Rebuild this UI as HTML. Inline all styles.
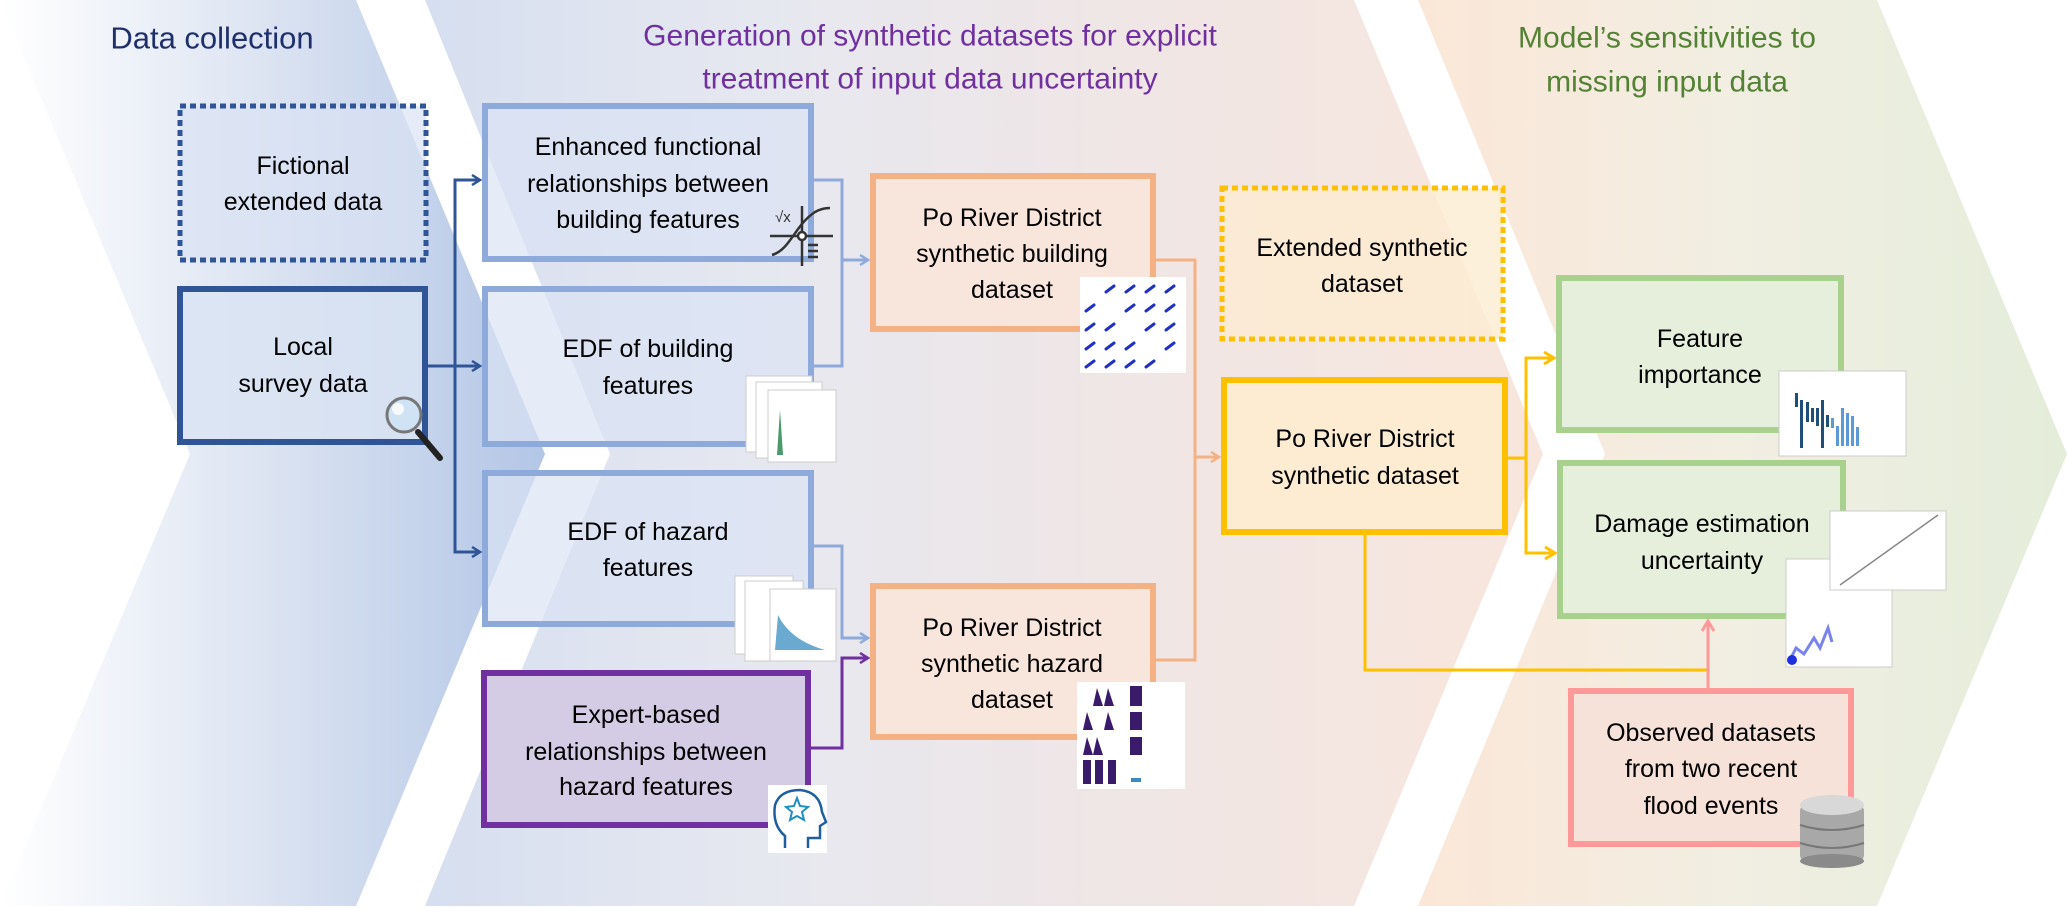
<!DOCTYPE html>
<html><head><meta charset="utf-8"><style>
html,body{margin:0;padding:0;background:#fff;}
svg{display:block;}
text{font-family:"Liberation Sans",sans-serif;}
</style></head><body>
<svg width="2067" height="908" viewBox="0 0 2067 908" xmlns="http://www.w3.org/2000/svg">
<defs>
<linearGradient id="g1" x1="0" x2="1" y1="0" y2="0">
<stop offset="0" stop-color="#ffffff"/><stop offset="0.45" stop-color="#dfe6f3"/><stop offset="1" stop-color="#b3c6e6"/></linearGradient>
<linearGradient id="g2" x1="0" x2="1" y1="0" y2="0">
<stop offset="0" stop-color="#d6dff0"/><stop offset="0.3" stop-color="#e6e8f0"/><stop offset="0.6" stop-color="#efe6e6"/><stop offset="1" stop-color="#f8e6dc"/></linearGradient>
<linearGradient id="g3" x1="0" x2="1" y1="0" y2="0">
<stop offset="0" stop-color="#fbe7d8"/><stop offset="0.5" stop-color="#f1eee2"/><stop offset="1" stop-color="#e4edda"/></linearGradient>
<marker id="ab" markerWidth="12" markerHeight="12" refX="10" refY="6" orient="auto" markerUnits="userSpaceOnUse"><path d="M2,1 L10,6 L2,11" fill="none" stroke="#2f5597" stroke-width="2.5"/></marker>
<marker id="al" markerWidth="12" markerHeight="12" refX="10" refY="6" orient="auto" markerUnits="userSpaceOnUse"><path d="M2,1 L10,6 L2,11" fill="none" stroke="#8eaadb" stroke-width="2.5"/></marker>
<marker id="ap" markerWidth="12" markerHeight="12" refX="10" refY="6" orient="auto" markerUnits="userSpaceOnUse"><path d="M2,1 L10,6 L2,11" fill="none" stroke="#7030a0" stroke-width="2.5"/></marker>
<marker id="ao" markerWidth="12" markerHeight="12" refX="10" refY="6" orient="auto" markerUnits="userSpaceOnUse"><path d="M2,1 L10,6 L2,11" fill="none" stroke="#f4b183" stroke-width="2.5"/></marker>
<marker id="ag" markerWidth="14" markerHeight="14" refX="12" refY="7" orient="auto" markerUnits="userSpaceOnUse"><path d="M2,1 L12,7 L2,13" fill="none" stroke="#ffc000" stroke-width="3"/></marker>
<marker id="ak" markerWidth="14" markerHeight="14" refX="12" refY="7" orient="auto" markerUnits="userSpaceOnUse"><path d="M2,1 L12,7 L2,13" fill="none" stroke="#ff9999" stroke-width="3"/></marker>
</defs>
<polygon points="0,0 356,0 545,454 356,906 0,906 190,454" fill="url(#g1)"/>
<polygon points="425,0 1354,0 1543,454 1354,906 425,906 610,454" fill="url(#g2)"/>
<polygon points="1418,0 1877,0 2067,454 1877,906 1418,906 1605,454" fill="url(#g3)"/>

<text x="212" y="38" font-size="31" fill="#1f2f6b" text-anchor="middle" dominant-baseline="central">Data collection</text>
<text x="930" y="36" font-size="30" fill="#7030a0" text-anchor="middle" dominant-baseline="central">Generation of synthetic datasets for explicit</text>
<text x="930" y="79" font-size="30" fill="#7030a0" text-anchor="middle" dominant-baseline="central">treatment of input data uncertainty</text>
<text x="1667" y="38" font-size="30" fill="#548235" text-anchor="middle" dominant-baseline="central">Model’s sensitivities to</text>
<text x="1667" y="82" font-size="30" fill="#548235" text-anchor="middle" dominant-baseline="central">missing input data</text>

<g fill="none" stroke-width="3">
<path d="M428,366 H480" stroke="#2f5597" marker-end="url(#ab)"/>
<path d="M455,366 V180 H480" stroke="#2f5597" marker-end="url(#ab)"/>
<path d="M455,366 V552 H480" stroke="#2f5597" marker-end="url(#ab)"/>
<path d="M814,180 H842 V366 H814" stroke="#8eaadb"/>
<path d="M842,260 H868" stroke="#8eaadb" marker-end="url(#al)"/>
<path d="M814,546 H842 V638 H868" stroke="#8eaadb" marker-end="url(#al)"/>
<path d="M811,748 H842 V658 H868" stroke="#7030a0" marker-end="url(#ap)"/>
<path d="M1156,260 H1195 V660 H1156" stroke="#f4b183"/>
<path d="M1195,457 H1219" stroke="#f4b183" marker-end="url(#ao)"/>
<path d="M1508,458 H1526" stroke="#ffc000"/>
<path d="M1526,458 V358 H1554" stroke="#ffc000" marker-end="url(#ag)"/>
<path d="M1526,458 V553 H1555" stroke="#ffc000" marker-end="url(#ag)"/>
<path d="M1365,535 V670 H1708" stroke="#ffc000"/>
<path d="M1708,688 V621" stroke="#ff9999" marker-end="url(#ak)"/>
</g>

<rect x="180" y="106" width="246" height="154" fill="#dae3f3" fill-opacity="0.7" stroke="#2f5597" stroke-width="5" stroke-dasharray="6,4"/>
<rect x="180" y="289" width="245" height="153" fill="#dae3f3" fill-opacity="0.8" stroke="#2f5597" stroke-width="6"/>
<rect x="485" y="106" width="326" height="153" fill="#dae3f3" fill-opacity="0.7" stroke="#8eaadb" stroke-width="6"/>
<rect x="485" y="289" width="326" height="155" fill="#dae3f3" fill-opacity="0.7" stroke="#8eaadb" stroke-width="6"/>
<rect x="485" y="473" width="326" height="151" fill="#dae3f3" fill-opacity="0.7" stroke="#8eaadb" stroke-width="6"/>
<rect x="484" y="673" width="324" height="152" fill="#d4cbe4" stroke="#7030a0" stroke-width="6"/>
<rect x="873" y="176" width="280" height="153" fill="#f8e5dc" stroke="#f4b183" stroke-width="6"/>
<rect x="873" y="586" width="280" height="151" fill="#f8e5dc" stroke="#f4b183" stroke-width="6"/>
<rect x="1222" y="188" width="281" height="151" fill="#fdecd2" fill-opacity="0.8" stroke="#ffc000" stroke-width="5" stroke-dasharray="6,4"/>
<rect x="1224" y="380" width="281" height="152" fill="#fdecd2" stroke="#ffc000" stroke-width="6"/>
<rect x="1559" y="278" width="282" height="152" fill="#e6eedc" stroke="#a9d18e" stroke-width="6"/>
<rect x="1560" y="463" width="283" height="153" fill="#e6eedc" stroke="#a9d18e" stroke-width="6"/>
<rect x="1571" y="691" width="280" height="153" fill="#f6e2d8" stroke="#ff9999" stroke-width="6"/>

<g font-size="25" fill="#000" text-anchor="middle" dominant-baseline="central">
<text x="303" y="166">Fictional</text><text x="303" y="202">extended data</text>
<text x="303" y="347">Local</text><text x="303" y="384">survey data</text>
<text x="648" y="147">Enhanced functional</text><text x="648" y="184">relationships between</text><text x="648" y="220">building features</text>
<text x="648" y="349">EDF of building</text><text x="648" y="386">features</text>
<text x="648" y="532">EDF of hazard</text><text x="648" y="568">features</text>
<text x="646" y="715">Expert-based</text><text x="646" y="752">relationships between</text><text x="646" y="787">hazard features</text>
<text x="1012" y="218">Po River District</text><text x="1012" y="254">synthetic building</text><text x="1012" y="290">dataset</text>
<text x="1012" y="628">Po River District</text><text x="1012" y="664">synthetic hazard</text><text x="1012" y="700">dataset</text>
<text x="1362" y="248">Extended synthetic</text><text x="1362" y="284">dataset</text>
<text x="1365" y="439">Po River District</text><text x="1365" y="476">synthetic dataset</text>
<text x="1700" y="339">Feature</text><text x="1700" y="375">importance</text>
<text x="1702" y="524">Damage estimation</text><text x="1702" y="561">uncertainty</text>
<text x="1711" y="733">Observed datasets</text><text x="1711" y="769">from two recent</text><text x="1711" y="806">flood events</text>
</g>

<g>
<line x1="418" y1="432" x2="440" y2="458" stroke="#222" stroke-width="6" stroke-linecap="round"/>
<circle cx="404" cy="415" r="17" fill="#cfe3f5" stroke="#777" stroke-width="3"/>
<circle cx="398" cy="409" r="6" fill="#fff" opacity="0.8"/>
</g>
<g stroke="#333" stroke-width="2.5" fill="none">
<line x1="802" y1="206" x2="802" y2="266"/><line x1="770" y1="236" x2="833" y2="236"/>
<path d="M772,255 C790,250 795,225 815,212 Q822,208 830,208"/>
<circle cx="802" cy="236" r="4" fill="#fff"/>
<path d="M808,245 h10 M808,251 h10 M808,257 h10"/>
<text x="775" y="222" font-size="15" fill="#333" stroke="none">√x</text>
</g>
<g stroke="#ccc" stroke-width="1" fill="#fff">
<rect x="746" y="376" width="66" height="76"/><rect x="756" y="382" width="66" height="76"/><rect x="768" y="390" width="68" height="72"/>
</g>
<path d="M777,455 L780,410 L783,455 Z" fill="#4a9a6a"/>
<g fill="#fff" stroke="#ccc"><rect x="735" y="576" width="58" height="78"/><rect x="745" y="581" width="58" height="80"/><rect x="770" y="589" width="66" height="72"/></g>
<path d="M775,650 L778,615 Q790,640 825,650 Z" fill="#6aaad0"/>
<rect x="768" y="785" width="59" height="68" fill="#fff"/>
<path d="M785,848 V836 Q772,825 775,805 Q780,790 800,790 Q820,792 822,812 L826,822 L820,826 V838 H808 V848" fill="none" stroke="#1f5fa0" stroke-width="2.5"/>
<path d="M797,798 l3,8 8,1 -6,5 2,8 -7,-4 -7,4 2,-8 -6,-5 8,-1z" fill="none" stroke="#1f8fc0" stroke-width="2"/>
<rect x="1080" y="277" width="106" height="96" fill="#fff"/>
<g stroke="#2030c0" stroke-width="3" stroke-linecap="round">
<path d="M1106,292 l8,-6 M1126,292 l8,-6 M1146,292 l8,-6 M1166,292 l8,-6 M1086,311 l8,-6 M1126,311 l8,-6 M1146,311 l8,-6 M1166,311 l8,-6 M1086,330 l8,-6 M1106,330 l8,-6 M1146,330 l8,-6 M1166,330 l8,-6 M1086,349 l8,-6 M1106,349 l8,-6 M1126,349 l8,-6 M1166,349 l8,-6 M1086,367 l8,-6 M1106,367 l8,-6 M1126,367 l8,-6 M1146,367 l8,-6"/>
</g>
<rect x="1077" y="682" width="108" height="107" fill="#fff"/>
<g fill="#3a1a6a">
<path d="M1093,706 l4,-18 6,18z M1104,706 l4,-18 6,18z M1130,706 h12 v-20 h-12z"/>
<path d="M1083,730 l4,-18 6,18z M1104,730 l4,-18 6,18z M1130,730 h12 v-18 h-12z"/>
<path d="M1083,755 l4,-18 6,18z M1093,755 l4,-18 6,18z M1130,755 h12 v-18 h-12z"/>
<path d="M1083,784 h8 v-24 h-8z M1095,784 h8 v-24 h-8z M1108,784 h8 v-24 h-8z"/>
</g>
<rect x="1131" y="778" width="10" height="4" fill="#3a8ac0"/>
<rect x="1779" y="371" width="127" height="85" fill="#fff" stroke="#ccc"/>
<g fill="#1f4e79"><rect x="1795" y="393" width="3" height="14"/><rect x="1800" y="400" width="3" height="48"/><rect x="1806" y="402" width="3" height="20"/><rect x="1811" y="408" width="3" height="14"/><rect x="1816" y="408" width="3" height="18"/><rect x="1821" y="400" width="3" height="48"/><rect x="1826" y="415" width="3" height="12"/></g>
<g fill="#5b9bd5"><rect x="1831" y="418" width="3" height="10"/><rect x="1836" y="426" width="3" height="20"/><rect x="1841" y="408" width="3" height="38"/><rect x="1846" y="413" width="3" height="33"/><rect x="1851" y="416" width="3" height="30"/><rect x="1856" y="427" width="3" height="19"/></g>
<rect x="1786" y="559" width="106" height="108" fill="#fff" stroke="#ccc"/>
<path d="M1790,660 l6,-12 8,6 10,-16 6,10 8,-20 4,14" fill="none" stroke="#2030e0" stroke-width="3" opacity="0.6"/>
<circle cx="1792" cy="660" r="5" fill="#2030e0"/>
<rect x="1830" y="511" width="116" height="79" fill="#fff" stroke="#ccc"/>
<line x1="1840" y1="585" x2="1938" y2="515" stroke="#888" stroke-width="1.5"/>
<g>
<rect x="1800" y="805" width="64" height="56" rx="6" fill="#a8a8a8"/>
<ellipse cx="1832" cy="861" rx="32" ry="7" fill="#8a8a8a"/>
<ellipse cx="1832" cy="805" rx="32" ry="10" fill="#d8d8d8"/>
<path d="M1800,825 q32,10 64,0 M1800,843 q32,10 64,0" stroke="#777" stroke-width="2" fill="none"/>
</g>
</svg>
</body></html>
